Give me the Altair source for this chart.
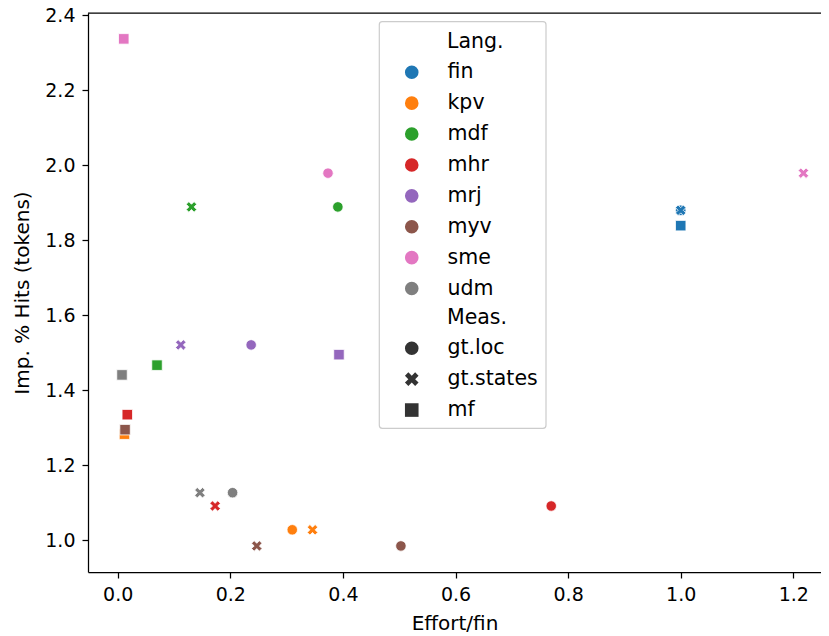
import altair as alt
import pandas as pd

langs = ["fin", "kpv", "mdf", "mhr", "mrj", "myv", "sme", "udm"]
measures = ["gt.loc", "gt.states", "mf"]
colors = ["#1f77b4", "#ff7f0e", "#2ca02c", "#d62728", "#9467bd", "#8c564b", "#e377c2", "#7f7f7f"]

# Effort/fin per measure
loc_x = [1.0, 0.310, 0.391, 0.770, 0.237, 0.503, 0.3735, 0.204]
states_x = [1.0, 0.346, 0.131, 0.173, 0.112, 0.247, 1.218, 0.146]
mf_x = [1.0, 0.012, 0.0698, 0.017, 0.393, 0.013, 0.0107, 0.0076]
# Imp. % Hits (tokens)
gt_y = [1.880, 1.028, 1.889, 1.0915, 1.521, 0.985, 1.979, 1.127]
mf_y = [1.839, 1.283, 1.467, 1.335, 1.495, 1.295, 2.337, 1.441]

x_ticks = [0.0, 0.2, 0.4, 0.6, 0.8, 1.0, 1.2]
y_ticks = [1.0, 1.2, 1.4, 1.6, 1.8, 2.0, 2.2, 2.4]

rows = []
for i, lg in enumerate(langs):
    rows.append({"lang": lg, "meas": "gt.loc", "x": loc_x[i], "y": gt_y[i]})
    rows.append({"lang": lg, "meas": "gt.states", "x": states_x[i], "y": gt_y[i]})
    rows.append({"lang": lg, "meas": "mf", "x": mf_x[i], "y": mf_y[i]})
df = pd.DataFrame(rows)

X_PATH = ("M0,-0.5L0.5,-1L1,-0.5L0.5,0L1,0.5L0.5,1L0,0.5L-0.5,1L-1,0.5"
          "L-0.5,0L-1,-0.5L-0.5,-1Z")

W, H = 733, 559
FONT = "DejaVu Sans"
LFS = 20.5

points = alt.Chart(df).mark_point(
    filled=True, opacity=1, size=110, stroke="white", strokeWidth=0.8
).encode(
    x=alt.X("x:Q", title="Effort/fin",
            scale=alt.Scale(domain=[-0.0528, 1.2492], nice=False, zero=False),
            axis=alt.Axis(values=x_ticks, format=".1f", titleY=51, titleBaseline="middle")),
    y=alt.Y("y:Q", title="Imp. % Hits (tokens)",
            scale=alt.Scale(domain=[0.9155, 2.406], nice=False, zero=False),
            axis=alt.Axis(values=y_ticks, format=".1f", titleX=-66, titleBaseline="middle")),
    color=alt.Color("lang:N", scale=alt.Scale(domain=langs, range=colors),
                    legend=alt.Legend(title=None, orient="none", legendX=313.5, legendY=49,
                                      symbolType="circle")),
    shape=alt.Shape("meas:N", scale=alt.Scale(domain=measures, range=["circle", X_PATH, "square"]),
                    legend=alt.Legend(title=None, orient="none", legendX=313.5, legendY=325,
                                      symbolFillColor="#333333")),
)

one = alt.Data(values=[{}])

box = alt.Chart(one).mark_rect(
    fill="white", fillOpacity=0.8, stroke="#cccccc", strokeWidth=1.2, cornerRadius=3
).encode(
    x=alt.value(291.3), x2=alt.value(458), y=alt.value(8.7), y2=alt.value(415.3)
)

t1 = alt.Chart(one).mark_text(align="left", baseline="middle", font=FONT, fontSize=LFS, color="black").encode(
    x=alt.value(359), y=alt.value(28.5), text=alt.value("Lang."))
t2 = alt.Chart(one).mark_text(align="left", baseline="middle", font=FONT, fontSize=LFS, color="black").encode(
    x=alt.value(359), y=alt.value(305), text=alt.value("Meas."))

top_spine = alt.Chart(one).mark_rule(color="black", strokeWidth=1.25).encode(
    x=alt.value(0), x2=alt.value(W), y=alt.value(0))

chart = alt.layer(box, points, t1, t2, top_spine).properties(
    width=W, height=H,
    autosize=alt.AutoSizeParams(type="none"),
    padding={"left": 80, "top": 5, "right": 0, "bottom": 62},
).configure_view(stroke=None).configure_axis(
    grid=False, domainColor="black", domainWidth=1.25, tickColor="black", tickWidth=1.25,
    tickSize=6, labelColor="black", labelFont=FONT, labelFontSize=19, labelPadding=7,
    titleFont=FONT, titleFontSize=20, titleFontWeight="normal", titleColor="black",
).configure_legend(
    labelFont=FONT, labelFontSize=LFS, labelColor="black", symbolSize=185,
    symbolStrokeWidth=0, rowPadding=9.9, labelOffset=25.5, padding=0,
)

chart.save("out.html", embed_options={"renderer": "svg", "actions": False})
